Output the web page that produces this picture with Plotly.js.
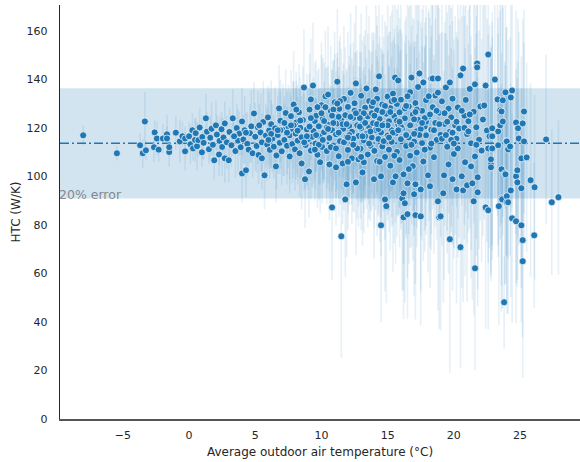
<!DOCTYPE html>
<html>
<head>
<meta charset="utf-8">
<script src="https://cdn.plot.ly/plotly-3.0.1.min.js"></script>
<style>html,body{margin:0;padding:0;background:#fff;}#chart{width:580px;height:462px;}</style>
</head>
<body>
<div id="chart"></div>
<script>
// Average outdoor air temperature (°C)
const temp = [
 -8.0, -5.45, -3.7, -3.5, -3.34, -3.26, -2.65, -2.6, -2.43, -2.3,
 -1.98, -1.67, -1.67, -1.5, -1.5, -1.0, -0.7, -0.5, -0.3, -0.3,
 0.0, 0.1, 0.25, 0.3, 0.45, 0.5, 0.6, 0.7, 0.8, 0.97,
 1.0, 1.1, 1.27, 1.35, 1.5, 1.6, 1.7, 1.8, 1.9, 2.03,
 2.1, 2.26, 2.3, 2.45, 2.5, 2.6, 2.7, 2.7, 2.85, 3.0,
 3.05, 3.2, 3.3, 3.35, 3.5, 3.6, 3.7, 3.8, 3.9, 4.0,
 4.0, 4.1, 4.2, 4.3, 4.4, 4.5, 4.6, 4.7, 4.8, 4.9,
 5.0, 5.1, 5.2, 5.25, 5.4, 5.5, 5.5, 5.6, 5.7, 5.8,
 5.9, 5.96, 6.05, 6.1, 6.2, 6.3, 6.4, 6.5, 6.56, 6.6,
 6.7, 6.8, 6.85, 6.9, 7.0, 7.1, 7.2, 7.3, 7.4, 7.5,
 7.6, 7.6, 7.7, 7.8, 7.85, 7.9, 8.0, 8.05, 8.1, 8.2,
 8.3, 8.35, 8.4, 8.5, 8.5, 8.6, 8.68, 8.76, 8.8, 8.9,
 9.0, 9.06, 9.1, 9.2, 9.2, 9.36, 9.4, 9.5, 9.55, 9.6,
 9.7, 9.8, 9.9, 9.9, 10.0, 10.05, 10.1, 10.2, 10.3, 10.4,
 10.5, 10.5, 10.6, 10.6, 10.7, 10.8, 10.8, 10.9, 11.0, 11.0,
 11.1, 11.1, 11.2, 11.2, 11.3, 11.35, 11.4, 11.5, 11.5, 11.6,
 11.65, 11.7, 11.8, 11.8, 11.9, 11.9, 12.0, 12.0, 12.1, 12.2,
 12.3, 12.3, 12.4, 12.5, 12.5, 12.6, 12.6, 12.7, 12.8, 12.8,
 12.9, 12.95, 13.0, 13.0, 13.1, 13.1, 13.2, 13.2, 13.3, 13.4,
 13.4, 13.5, 13.5, 13.6, 13.6, 13.7, 13.8, 13.8, 13.9, 13.97,
 14.0, 14.1, 14.1, 14.2, 14.2, 14.3, 14.35, 14.4, 14.5, 14.5,
 14.5, 14.6, 14.6, 14.7, 14.8, 14.8, 14.9, 14.9, 15.0, 15.0,
 15.1, 15.1, 15.2, 15.2, 15.3, 15.3, 15.4, 15.4, 15.5, 15.56,
 15.6, 15.6, 15.7, 15.7, 15.8, 15.8, 15.9, 15.9, 16.0, 16.0,
 16.1, 16.1, 16.2, 16.2, 16.2, 16.3, 16.3, 16.4, 16.5, 16.5,
 16.6, 16.6, 16.7, 16.7, 16.8, 16.8, 16.9, 16.9, 17.0, 17.0,
 17.1, 17.1, 17.1, 17.2, 17.2, 17.3, 17.3, 17.4, 17.5, 17.5,
 17.6, 17.6, 17.7, 17.7, 17.8, 17.9, 17.9, 18.05, 18.1, 18.2,
 18.2, 18.3, 18.3, 18.4, 18.4, 18.5, 18.6, 18.6, 18.7, 18.8,
 18.8, 18.9, 18.9, 19.0, 19.0, 19.1, 19.2, 19.26, 19.3, 19.4,
 19.5, 19.6, 19.6, 19.7, 19.7, 19.7, 19.8, 19.9, 19.9, 20.0,
 20.1, 20.2, 20.2, 20.3, 20.4, 20.5, 20.5, 20.6, 20.7, 20.7,
 20.8, 20.85, 20.9, 21.0, 21.0, 21.1, 21.2, 21.3, 21.3, 21.4,
 21.5, 21.5, 21.6, 21.6, 21.6, 21.7, 21.76, 21.76, 21.8, 21.8,
 21.9, 22.0, 22.1, 22.2, 22.3, 22.4, 22.4, 22.5, 22.6, 22.6,
 22.6, 22.7, 22.8, 22.8, 22.8, 22.9, 22.9, 22.9, 23.1, 23.3,
 23.35, 23.35, 23.4, 23.5, 23.5, 23.6, 23.6, 23.6, 23.65, 23.7,
 23.7, 23.8, 23.85, 23.9, 23.9, 23.95, 24.0, 24.0, 24.0, 24.1,
 24.1, 24.25, 24.3, 24.3, 24.4, 24.4, 24.7, 24.7, 24.7, 24.8,
 24.8, 24.85, 24.9, 25.1, 25.1, 25.1, 25.2, 25.2, 25.2, 25.3,
 25.3, 25.5, 25.8, 26.07, 26.1, 26.97, 27.4, 27.9,
 6.2, 6.9, 7.4, 7.9, 8.2, 8.7, 9.1, 9.3, 9.8, 10.2,
 10.4, 10.9, 11.3, 11.7, 12.1, 12.4, 12.9, 13.3, 13.7, 14.0,
 14.3, 14.7, 15.0, 15.4, 15.7, 16.0, 16.4, 16.8, 17.2, 17.5,
 17.9, 18.3, 18.7, 19.1, 19.5, 19.9, 20.3, 20.8, 21.2, 21.7,
 12.2, 12.7, 13.2, 13.6, 14.2, 14.8, 15.3, 15.9, 16.5, 17.0,
 9.5, 10.0, 10.7, 11.4, 12.0, 13.0, 14.4, 15.5, 16.6, 17.8,
 9.2, 9.6, 10.1, 10.5, 10.9, 11.3, 11.6, 12.0, 12.5, 12.9,
 13.3, 13.8, 14.2, 14.6, 15.1, 15.5, 15.9, 16.3, 16.7, 17.1,
 17.4, 17.8, 18.1, 18.5, 18.9, 19.3, 19.8, 20.2, 20.6, 21.1,
 10.3, 10.8, 11.2, 11.9, 12.6, 13.1, 13.9, 14.6, 15.2, 15.8,
 16.4, 17.0, 17.6, 18.2, 18.8, 19.4, 20.0, 8.9, 8.1, 7.2,
 3.4, 4.3, 5.3, 6.0, 6.7, 7.7, 8.4, 9.7, 11.1, 12.4
];
// HTC (W/K)
const htc = [
 116.9, 109.5, 112.8, 109.5, 122.6, 110.7, 112.0, 118.1, 115.6, 111.0,
 115.6, 117.3, 115.6, 110.0, 112.0, 118.0, 114.4, 116.5, 110.3, 115.6,
 116.5, 113.2, 119.0, 111.5, 115.0, 117.8, 112.4, 114.9, 120.1, 109.9,
 116.2, 113.8, 123.9, 118.4, 111.2, 115.9, 119.6, 113.0, 106.6, 121.0,
 117.2, 109.0, 114.6, 119.4, 112.1, 116.0, 121.8, 107.4, 114.0, 106.6,
 118.3, 112.8, 123.9, 116.4, 110.4, 119.9, 114.7, 117.6, 112.0, 122.6,
 101.2, 115.2, 119.0, 102.5, 113.4, 111.0, 117.8, 120.6, 109.5, 125.9,
 116.3, 112.5, 120.2, 108.8, 118.1, 107.4, 114.0, 122.4, 100.4, 116.8,
 113.1, 124.3, 118.9, 110.9, 121.5, 115.6, 112.2, 119.8, 104.1, 108.6,
 117.0, 128.0, 113.8, 122.9, 110.3, 119.1, 115.0, 126.1, 112.6, 120.5,
 108.2, 116.9, 124.8, 113.3, 119.4, 129.6, 111.1, 117.6, 122.2, 114.7,
 126.4, 109.5, 120.0, 105.3, 116.1, 123.2, 136.6, 98.8, 112.9, 119.3,
 115.4, 102.0, 127.5, 131.7, 110.6, 137.4, 118.7, 122.8, 113.5, 125.0,
 108.9, 120.6, 105.8, 116.5, 129.3, 112.1, 123.7, 118.2, 133.0, 110.4,
 133.7, 121.3, 104.9, 115.8, 126.9, 87.2, 119.0, 112.7, 124.4, 130.5,
 103.7, 117.3, 139.0, 121.8, 108.3, 127.8, 114.5, 75.3, 123.5, 105.3,
 119.6, 131.9, 90.5, 125.2, 96.7, 116.2, 110.9, 128.6, 120.7, 134.4,
 107.4, 118.4, 124.1, 113.0, 130.1, 138.3, 97.5, 121.0, 107.0, 116.6,
 126.5, 111.4, 119.9, 133.2, 101.6, 123.0, 105.8, 114.8, 128.3, 136.2,
 117.5, 109.0, 124.7, 120.3, 131.0, 112.6, 126.0, 116.0, 121.9, 98.8,
 110.5, 135.8, 119.1, 127.2, 106.3, 115.4, 141.2, 123.6, 100.0, 79.8,
 118.1, 129.6, 112.3, 121.5, 90.5, 108.0, 87.7, 125.8, 116.8, 132.9,
 111.0, 122.7, 104.4, 128.1, 119.0, 114.2, 97.5, 134.1, 124.9, 140.7,
 100.0, 117.7, 129.8, 110.1, 139.5, 121.3, 106.7, 126.4, 115.3, 131.6,
 90.9, 119.8, 100.8, 93.0, 83.1, 88.9, 123.9, 112.5, 97.1, 84.4,
 128.8, 116.0, 108.5, 134.7, 140.7, 121.1, 104.2, 125.5, 92.6, 114.3,
 96.7, 84.0, 130.2, 118.6, 109.8, 123.3, 136.8, 142.4, 94.6, 83.5,
 113.7, 127.0, 138.7, 106.1, 120.5, 131.4, 116.9, 100.4, 124.6, 95.9,
 111.8, 140.3, 119.2, 140.3, 128.5, 107.9, 122.0, 133.3, 115.0, 89.7,
 140.3, 83.1, 126.2, 83.5, 117.1, 130.9, 93.0, 100.4, 121.6, 136.6,
 112.2, 104.9, 127.9, 138.7, 74.1, 118.4, 124.3, 98.8, 132.0, 109.2,
 121.0, 94.6, 115.5, 128.4, 119.7, 141.6, 70.8, 100.0, 144.4, 94.2,
 125.0, 105.8, 131.5, 96.3, 117.4, 122.7, 136.0, 104.1, 113.6, 97.1,
 89.7, 126.6, 108.2, 137.9, 62.1, 120.2, 146.5, 144.9, 93.4, 99.6,
 115.1, 128.8, 110.6, 123.4, 129.2, 137.4, 87.2, 118.9, 150.2, 86.0,
 111.5, 116.5, 104.9, 107.0, 103.7, 111.5, 116.5, 119.8, 139.9, 131.7,
 118.5, 112.8, 87.7, 127.2, 121.0, 126.7, 102.9, 90.9, 90.5, 131.3,
 122.6, 48.1, 101.2, 134.6, 100.8, 114.4, 91.8, 89.3, 114.4, 111.1,
 89.3, 112.3, 132.5, 94.2, 135.4, 82.7, 122.2, 100.0, 81.5, 102.5,
 97.5, 119.8, 115.6, 107.4, 95.1, 79.8, 121.8, 73.7, 65.0, 126.7,
 114.4, 107.8, 98.4, 75.7, 95.5, 115.2, 89.3, 91.4,
 117.5, 119.0, 118.0, 121.0, 118.8, 114.0, 120.5, 116.3, 113.0, 122.8,
 120.0, 122.0, 118.0, 114.0, 117.0, 115.5, 120.5, 122.0, 118.5, 125.0,
 119.5, 114.5, 121.0, 118.0, 123.0, 120.5, 117.0, 113.0, 127.5, 119.5,
 122.5, 113.5, 127.0, 115.5, 122.5, 118.0, 111.5, 120.0, 125.5, 113.0,
 124.5, 111.5, 126.0, 113.5, 132.0, 129.0, 131.0, 122.5, 133.0, 123.5,
 111.0, 126.0, 112.0, 131.0, 106.0, 108.0, 106.0, 108.5, 103.0, 111.0,
 124.0, 117.0, 115.0, 119.5, 127.5, 124.5, 121.5, 116.0, 127.0, 124.0,
 116.5, 129.0, 121.5, 126.5, 116.0, 131.5, 119.0, 128.0, 121.0, 126.5,
 117.0, 124.0, 133.0, 119.0, 121.5, 126.0, 115.0, 122.5, 127.0, 118.5,
 128.5, 125.0, 130.0, 121.5, 126.0, 116.5, 130.5, 121.0, 126.5, 119.0,
 129.0, 117.5, 122.0, 125.5, 134.5, 117.0, 113.5, 116.5, 127.5, 122.0,
 116.5, 118.0, 121.0, 115.0, 119.0, 121.0, 123.0, 128.5, 111.5, 113.0
];
// HTC uncertainty (± W/K)
const htcErr = [
 4, 3, 5, 6, 12, 4, 6, 5, 7, 5,
 6, 8, 5, 6, 4, 7, 9, 6, 8, 5,
 6, 8, 7, 5, 9, 6, 10, 7, 8, 6,
 9, 7, 10, 8, 6, 9, 11, 7, 8, 10,
 8, 9, 10, 7, 12, 8, 9, 10, 11, 9,
 10, 9, 12, 8, 11, 10, 13, 9, 12, 14,
 12, 10, 14, 11, 13, 9, 12, 15, 10, 13,
 14, 11, 15, 12, 16, 13, 12, 17, 14, 13,
 15, 13, 16, 12, 18, 14, 13, 17, 15, 14,
 16, 18, 13, 17, 14, 19, 15, 18, 16, 17,
 15, 18, 19, 16, 20, 22, 17, 19, 21, 18,
 20, 18, 21, 19, 17, 22, 24, 20, 18, 23,
 21, 19, 23, 25, 20, 26, 22, 24, 19, 23,
 22, 24, 21, 20, 26, 23, 25, 21, 27, 22,
 28, 24, 23, 22, 27, 30, 25, 24, 26, 29,
 24, 26, 30, 27, 25, 28, 26, 50, 29, 25,
 27, 30, 32, 28, 30, 27, 26, 31, 29, 33,
 27, 30, 31, 28, 33, 34, 30, 31, 28, 29,
 32, 29, 31, 34, 30, 33, 29, 30, 32, 35,
 31, 30, 34, 32, 35, 31, 33, 30, 34, 33,
 32, 36, 33, 35, 31, 32, 38, 34, 33, 40,
 35, 37, 33, 36, 38, 34, 40, 36, 35, 38,
 34, 37, 35, 38, 36, 35, 37, 39, 36, 40,
 36, 37, 39, 35, 41, 38, 36, 39, 37, 40,
 38, 39, 37, 40, 42, 41, 40, 38, 39, 43,
 41, 40, 38, 42, 43, 41, 39, 40, 42, 39,
 41, 43, 42, 40, 39, 41, 43, 44, 42, 45,
 40, 42, 44, 41, 43, 42, 41, 40, 43, 42,
 41, 45, 43, 44, 42, 40, 43, 44, 41, 45,
 45, 46, 43, 47, 42, 44, 45, 43, 42, 46,
 44, 45, 43, 46, 55, 44, 45, 46, 44, 43,
 45, 47, 44, 46, 45, 47, 50, 46, 48, 46,
 45, 47, 46, 48, 45, 46, 47, 46, 44, 48,
 47, 46, 45, 48, 42, 46, 49, 48, 47, 46,
 45, 47, 46, 48, 47, 49, 50, 46, 48, 49,
 47, 46, 48, 47, 45, 46, 47, 48, 49, 48,
 47, 46, 49, 48, 47, 46, 48, 47, 45, 48,
 47, 19, 46, 48, 45, 47, 44, 46, 47, 45,
 46, 45, 47, 44, 48, 43, 46, 44, 42, 45,
 43, 45, 44, 42, 41, 40, 43, 40, 48, 42,
 41, 39, 40, 30, 38, 35, 30, 32,
 14, 16, 17, 18, 19, 20, 22, 21, 23, 24,
 25, 26, 27, 28, 29, 30, 31, 32, 33, 34,
 35, 36, 37, 38, 39, 40, 41, 42, 43, 44,
 43, 44, 45, 44, 45, 46, 45, 46, 47, 46,
 30, 29, 32, 31, 34, 35, 37, 38, 40, 41,
 21, 24, 25, 27, 28, 30, 33, 36, 39, 42,
 12, 15, 18, 14, 20, 17, 22, 19, 24, 21,
 25, 22, 28, 24, 30, 26, 32, 27, 33, 29,
 34, 30, 36, 31, 37, 33, 38, 35, 39, 36,
 16, 19, 21, 23, 25, 27, 29, 31, 33, 35,
 37, 38, 39, 40, 41, 42, 43, 14, 12, 11,
 7, 8, 9, 10, 11, 12, 13, 15, 18, 20
];
const meanHTC = 113.6;
const errorFrac = 0.2;
const xTickVals = [-5, 0, 5, 10, 15, 20, 25];
const yTickVals = [0, 20, 40, 60, 80, 100, 120, 140, 160];
const bandLabel = "20% error";
const xTitle = "Average outdoor air temperature (°C)";
const yTitle = "HTC (W/K)";

const blue = '#1f77b4';
const font = 'DejaVu Sans, sans-serif';

const trace = {
  x: temp, y: htc, type: 'scatter', mode: 'markers',
  marker: {color: blue, size: 7, line: {color: 'white', width: 0.7}},
  error_y: {type: 'data', array: htcErr, visible: true, color: 'rgba(31,119,180,0.11)', thickness: 1.6, width: 0},
  hoverinfo: 'x+y', showlegend: false
};

const layout = {
  width: 580, height: 462,
  margin: {l: 60, r: 0, t: 5, b: 43},
  paper_bgcolor: 'white', plot_bgcolor: 'white',
  font: {family: font, color: '#262626'},
  xaxis: {
    range: [-9.75, 29.53], tickvals: xTickVals, ticktext: xTickVals.map(v => v < 0 ? '\u2212' + Math.abs(v) : String(v)),
    showgrid: false, zeroline: false, showline: true, linecolor: '#555', linewidth: 2,
    ticks: 'outside', ticklen: 5, tickcolor: 'rgba(0,0,0,0)', tickfont: {size: 11, family: font, color: '#262626'},
    title: {text: xTitle, font: {size: 12, family: font, color: '#262626'}, standoff: 6}
  },
  yaxis: {
    range: [0, 170.6], tickvals: yTickVals,
    showgrid: false, zeroline: false, showline: true, linecolor: '#262626', linewidth: 1.2,
    ticks: 'outside', ticklen: 9, tickcolor: 'rgba(0,0,0,0)', tickfont: {size: 11, family: font, color: '#262626'},
    title: {text: yTitle, font: {size: 12, family: font, color: '#262626'}, standoff: 3}
  },
  shapes: [
    {type: 'rect', xref: 'paper', yref: 'y', x0: 0, x1: 1, y0: meanHTC * (1 - errorFrac), y1: meanHTC * (1 + errorFrac),
     fillcolor: 'rgba(31,119,180,0.2)', line: {width: 0}, layer: 'below'},
    {type: 'line', xref: 'paper', yref: 'y', x0: 0, x1: 1, y0: meanHTC, y1: meanHTC,
     line: {color: blue, width: 1.5, dash: '9px,3px,2px,3px'}, layer: 'below'}
  ],
  annotations: [
    {xref: 'paper', yref: 'y', x: 0, y: meanHTC * (1 - errorFrac), xanchor: 'left', yanchor: 'bottom', yshift: -6, xshift: -3,
     text: bandLabel, showarrow: false, font: {size: 12.5, family: font, color: 'rgba(110,110,110,0.8)'}}
  ]
};

Plotly.newPlot('chart', [trace], layout, {displayModeBar: false, staticPlot: true});
</script>
</body>
</html>
